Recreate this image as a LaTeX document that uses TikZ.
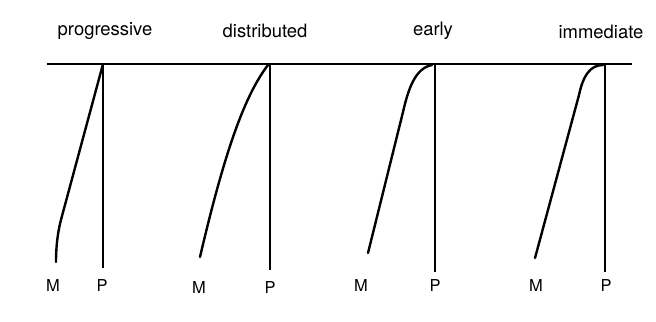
\documentclass[tikz,border=0pt]{standalone}
\usepackage{fontspec}
\setmainfont{TeX Gyre Heros}
\begin{document}
\begin{tikzpicture}[x=1bp,y=-1bp,
  curve/.style={line width=2.4bp, line cap=round},
  stem/.style={line width=1.9bp},
  title/.style={font=\fontsize{18.5}{20}\selectfont, inner sep=0pt},
  letter/.style={font=\fontsize{16.5}{18}\selectfont, inner sep=0pt}]
\useasboundingbox (0,0) rectangle (656,321);
% axis
\coordinate (L) at (47,64);
\coordinate (R) at (632,64);
\draw[line width=1.9bp] (L) -- (R);
% titles
\node[title] (t1) at (105,31) {progressive};
\node[title] (t2) at (265,31) {distributed};
\node[title] (t3) at (433,31) {early};
\node[title] (t4) at (601,32) {immediate};
% top points and feet
\coordinate (p1t) at (103,64); \coordinate (p1b) at (103,268);
\coordinate (p2t) at (270,64); \coordinate (p2b) at (270,270);
\coordinate (p3t) at (435,64); \coordinate (p3b) at (435,272);
\coordinate (p4t) at (605,64); \coordinate (p4b) at (605,272);
\coordinate (m1b) at (56,262);
\coordinate (m2b) at (200,257);
\coordinate (m3b) at (368,253);
\coordinate (m4b) at (535,258);
% P lines
\draw[stem] (p1t) -- (p1b);
\draw[stem] (p2t) -- (p2b);
\draw[stem] (p3t) -- (p3b);
\draw[stem] (p4t) -- (p4b);
% M curves
\draw[curve] (p1t) -- (62,216) .. controls (58,230) and (56,245) .. (m1b);
\draw[curve] (268,65) .. controls (245,95) and (225,150) .. (m2b);
\draw[curve] (432,65) .. controls (415,68) and (408,90) .. (403,112) -- (m3b);
\draw[curve] (603,65) .. controls (590,65) and (583,76) .. (579,95) -- (m4b);
% labels
\node[letter] (M1) at (53,285) {M};
\node[letter] (P1) at (102,285) {P};
\node[letter] (M2) at (199,287) {M};
\node[letter] (P2) at (270,287) {P};
\node[letter] (M3) at (361,285) {M};
\node[letter] (P3) at (435,285) {P};
\node[letter] (M4) at (536,285) {M};
\node[letter] (P4) at (606,285) {P};
\end{tikzpicture}
\end{document}
